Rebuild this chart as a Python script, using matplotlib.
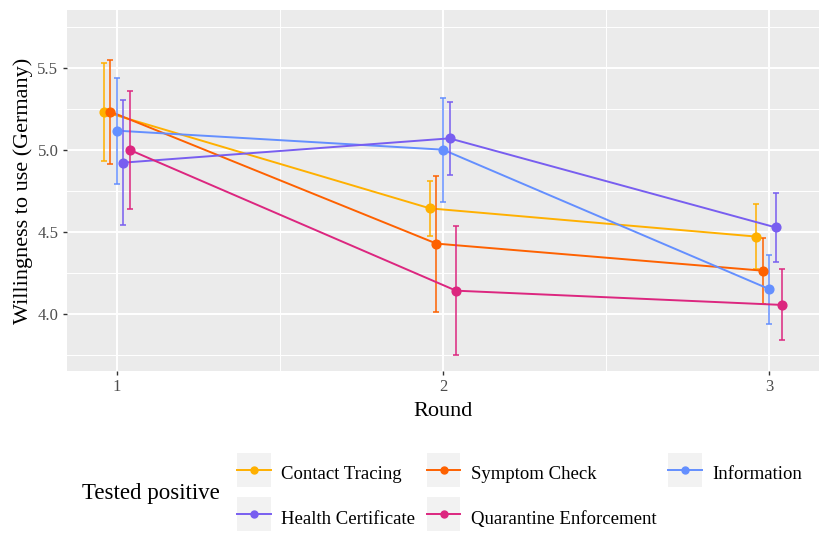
import numpy as np
import matplotlib
matplotlib.use('Agg')
import matplotlib.pyplot as plt
from matplotlib.lines import Line2D
from matplotlib.patches import Rectangle
from matplotlib.legend_handler import HandlerLine2D

plt.rcParams['font.family'] = ['Liberation Serif', 'DejaVu Serif']

rounds = [1, 2, 3]
apps = ['Contact Tracing', 'Symptom Check', 'Information', 'Health Certificate', 'Quarantine Enforcement']
colors = ['#FFB000', '#FE6100', '#648FFF', '#785EF0', '#DC267F']

# mean and interval ends per app, one value per round
ct_mean = [5.234, 4.644, 4.472]
ct_low = [4.935, 4.474, 4.274]
ct_high = [5.529, 4.813, 4.671]

sc_mean = [5.234, 4.429, 4.264]
sc_low = [4.915, 4.012, 4.061]
sc_high = [5.547, 4.843, 4.463]

info_mean = [5.118, 5.002, 4.152]
info_low = [4.795, 4.685, 3.941]
info_high = [5.437, 5.315, 4.360]

hc_mean = [4.923, 5.071, 4.528]
hc_low = [4.543, 4.850, 4.319]
hc_high = [5.305, 5.293, 4.740]

qe_mean = [5.000, 4.142, 4.055]
qe_low = [4.640, 3.750, 3.840]
qe_high = [5.360, 4.535, 4.274]

means = [ct_mean, sc_mean, info_mean, hc_mean, qe_mean]
lows = [ct_low, sc_low, info_low, hc_low, qe_low]
highs = [ct_high, sc_high, info_high, hc_high, qe_high]


class KeyBox(HandlerLine2D):
    # grey square key background like ggplot, centred on the key line
    def create_artists(self, legend, orig_handle, xdescent, ydescent, width, height, fontsize, trans):
        arts = super().create_artists(legend, orig_handle, xdescent, ydescent, width, height, fontsize, trans)
        yc = (height - ydescent) / 2
        box = Rectangle((-xdescent, yc - width / 2), width, width, facecolor='#F2F2F2',
                        edgecolor='none', transform=trans)
        return [box] + list(arts)


fig = plt.figure(figsize=(8.3, 5.54), dpi=100)
ax = fig.add_axes([66.7 / 830, 1 - 371 / 554, (819.3 - 66.7) / 830, (371 - 10) / 554])
ax.set_facecolor('#EBEBEB')

dodge = 0.02
handles = []
for i, app in enumerate(apps):
    x = np.array(rounds) + (i - 2) * dodge
    m = np.array(means[i])
    err = [m - np.array(lows[i]), np.array(highs[i]) - m]
    ax.plot(x, m, color=colors[i], lw=1.4, zorder=3)
    ax.errorbar(x, m, yerr=err, fmt='none', ecolor=colors[i], elinewidth=1.1,
                capsize=2.2, capthick=1.1, zorder=3)
    ax.plot(x, m, 'o', color=colors[i], ms=6.3, zorder=4)
    handles.append(Line2D([], [], color=colors[i], lw=1.4, marker='o', ms=5, label=app))

ax.set_xlim(0.846, 3.154)
ax.set_ylim(3.652, 5.854)
ax.set_xticks([1, 2, 3])
ax.set_xticks([1.5, 2.5], minor=True)
ax.set_yticks([4.0, 4.5, 5.0, 5.5])
ax.set_yticklabels(['4.0', '4.5', '5.0', '5.5'])
ax.set_yticks([3.75, 4.25, 4.75, 5.25, 5.75], minor=True)
ax.grid(which='major', color='white', lw=1.4)
ax.grid(which='minor', color='white', lw=0.7)
ax.set_axisbelow(True)
for s in ax.spines.values():
    s.set_visible(False)
ax.tick_params(which='major', length=3, width=1.0, color='#333333', labelcolor='#4D4D4D',
               labelsize=12, pad=3)
ax.tick_params(which='minor', length=0)

ax.set_xlabel('Round', fontsize=16, labelpad=5)
ax.set_ylabel('Willingness to use (Germany)', fontsize=16, labelpad=3)

# ggplot legend fills by row, matplotlib by column
order = [0, 3, 1, 4, 2]
leg = fig.legend([handles[k] for k in order], [apps[k] for k in order],
                 loc='upper left', bbox_to_anchor=(237 / 830, 1 - 460 / 554),
                 ncol=3, frameon=False, fontsize=13.5, numpoints=1,
                 handlelength=1.8, handleheight=1.8, handletextpad=0.55,
                 labelspacing=0.95, columnspacing=0.62, borderpad=0, borderaxespad=0,
                 handler_map={Line2D: KeyBox()})
fig.text(82 / 830, 1 - 494 / 554, 'Tested positive', fontsize=16.5, va='center', ha='left')

fig.savefig('out.png', dpi=100)
